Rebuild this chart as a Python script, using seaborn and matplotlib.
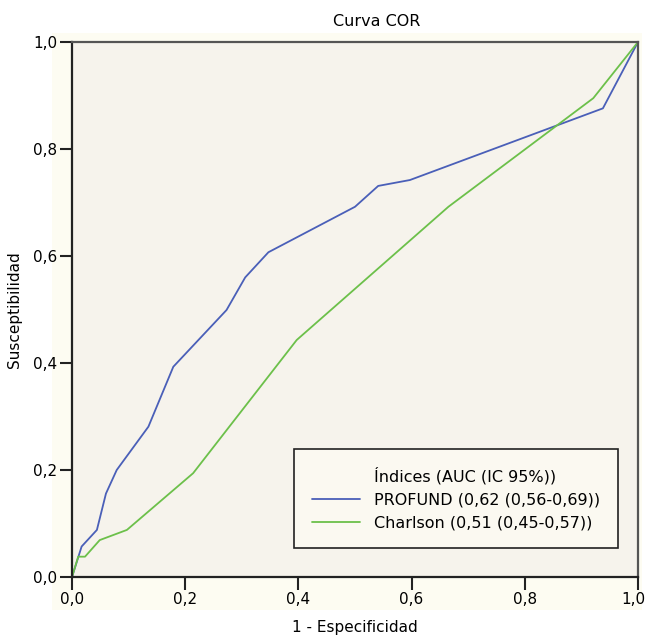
import matplotlib
matplotlib.use("Agg")
import matplotlib.pyplot as plt
import matplotlib.transforms as mtransforms
from matplotlib.patches import Rectangle
from matplotlib.lines import Line2D
import seaborn as sns
import pandas as pd

profund_x = [0.0, 0.017, 0.044, 0.060, 0.079, 0.135, 0.179, 0.273, 0.306, 0.347, 0.500, 0.541, 0.597, 0.938, 1.0]
profund_y = [0.0, 0.057, 0.088, 0.156, 0.200, 0.281, 0.393, 0.499, 0.560, 0.607, 0.692, 0.731, 0.742, 0.876, 1.0]
charlson_x = [0.0, 0.011, 0.023, 0.049, 0.097, 0.214, 0.397, 0.665, 0.921, 1.0]
charlson_y = [0.0, 0.038, 0.038, 0.069, 0.088, 0.194, 0.443, 0.692, 0.895, 1.0]
series_labels = ["PROFUND (0,62 (0,56-0,69))", "Charlson (0,51 (0,45-0,57))"]
legend_title = "Índices (AUC (IC 95%))"
ticks = [0.0, 0.2, 0.4, 0.6, 0.8, 1.0]
tick_labels = ["0,0", "0,2", "0,4", "0,6", "0,8", "1,0"]

sns.set_style("white")
plt.rcParams['font.family'] = ['DejaVu Sans']
plt.rcParams['text.color'] = 'black'
plt.rcParams['axes.labelcolor'] = 'black'
plt.rcParams['xtick.color'] = 'black'
plt.rcParams['ytick.color'] = 'black'

W, H = 647, 635
fig = plt.figure(figsize=(W / 100, H / 100), dpi=100)
fig.patch.set_facecolor("white")
# cream chart-area background
fig.patches.append(Rectangle((52 / W, 1 - 610 / H), (642 - 52) / W, (610 - 33) / H,
                             transform=fig.transFigure, facecolor="#fdfcf2",
                             edgecolor="none", zorder=-10))

ax = fig.add_axes([72 / W, 1 - 577 / H, (638 - 72) / W, (577 - 42) / H])
ax.set_facecolor("#f6f3ec")

colors = {series_labels[0]: "#4a5fb8", series_labels[1]: "#6cc04a"}
for lab, xs, ys in [(series_labels[0], profund_x, profund_y), (series_labels[1], charlson_x, charlson_y)]:
    sub = pd.DataFrame({"x": xs, "y": ys})
    sns.lineplot(data=sub, x="x", y="y", color=colors[lab], linewidth=1.3, ax=ax,
                 sort=False, estimator=None)

ax.set_xlim(0, 1)
ax.set_ylim(0, 1)
ax.set_xticks(ticks)
ax.set_yticks(ticks)
ax.set_xticklabels(tick_labels, fontsize=11)
ax.set_yticklabels(tick_labels, fontsize=11)
ax.tick_params(axis="both", direction="out", length=9, width=1.5, color="#222222", pad=1.5,
               bottom=True, left=True)
# nudge the last x tick label slightly left so it stays inside the figure
last = ax.get_xticklabels()[-1]
last.set_transform(last.get_transform() + mtransforms.ScaledTranslation(-5 / 100, 0, fig.dpi_scale_trans))
for side in ["left", "bottom"]:
    ax.spines[side].set_color("#222222")
    ax.spines[side].set_linewidth(1.6)
for side in ["top", "right"]:
    ax.spines[side].set_color("#555555")
    ax.spines[side].set_linewidth(1.6)

ax.set_xlabel("1 - Especificidad", fontsize=11, labelpad=10)
ax.set_ylabel("Susceptibilidad", fontsize=11, labelpad=8)
fig.text(377 / W, 1 - 22 / H, "Curva COR", ha="center", va="center", fontsize=11.5)

handles = [Line2D([], [], color="none"),
           Line2D([], [], color=colors[series_labels[0]], linewidth=1.3),
           Line2D([], [], color=colors[series_labels[1]], linewidth=1.3)]
leg = ax.legend(handles, [legend_title] + series_labels, loc="lower right",
                bbox_to_anchor=((618 - 72) / 566, (577 - 548) / 535),
                borderaxespad=0,
                fontsize=11.5, frameon=True, fancybox=False, handlelength=3.0,
                handletextpad=0.9, borderpad=1.1, labelspacing=0.5)
leg.get_frame().set_edgecolor("#222222")
leg.get_frame().set_linewidth(1.2)
leg.get_frame().set_facecolor("#fbf9f1")
leg.get_frame().set_alpha(1)

fig.savefig("out.png", dpi=100, facecolor=fig.get_facecolor())
